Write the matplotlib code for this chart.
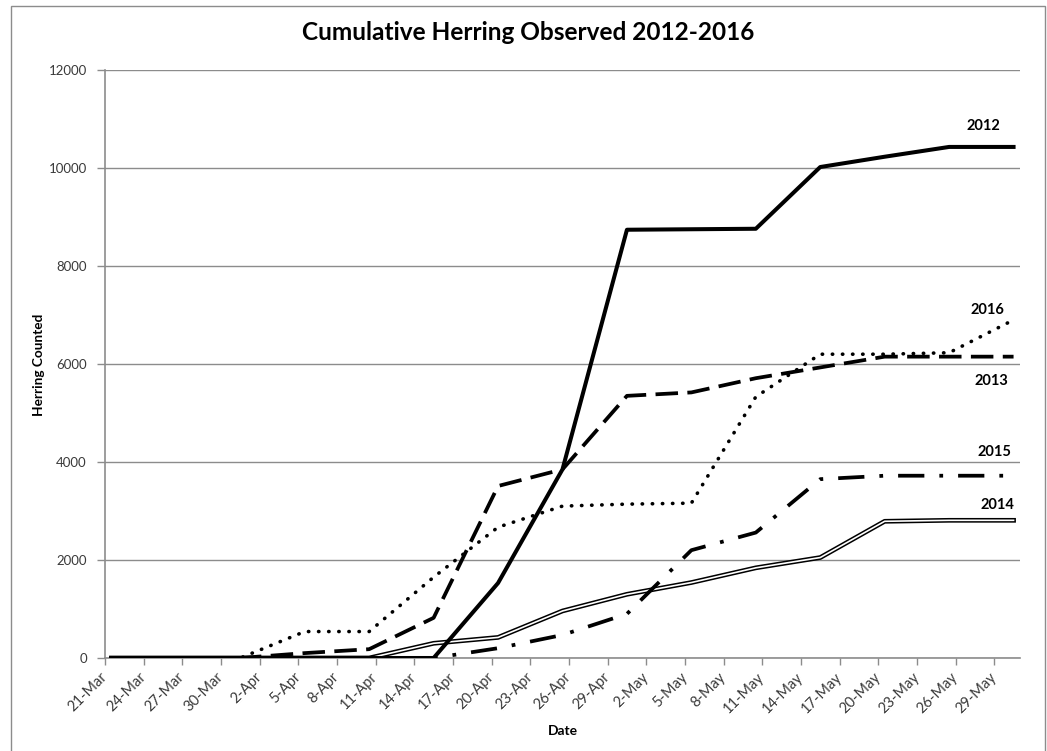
import matplotlib
matplotlib.use("Agg")
import matplotlib.pyplot as plt
import pandas as pd
from matplotlib.patches import Rectangle

# ---- data ----
obs_dates = ["21-Mar", "26-Mar", "31-Mar", "5-Apr", "10-Apr", "15-Apr", "20-Apr", "25-Apr",
             "30-Apr", "5-May", "10-May", "15-May", "20-May", "25-May", "30-May"]
y2012 = [0, 0, 0, 0, 0, 0, 1530, 3850, 8740, 8750, 8760, 10020, 10230, 10430, 10430]
y2013 = [0, 0, 0, 100, 180, 820, 3510, 3850, 5350, 5420, 5710, 5930, 6150, 6150, 6150]
y2014 = [0, 0, 0, 0, 0, 300, 420, 960, 1300, 1540, 1840, 2050, 2790, 2810, 2810]
y2015 = [0, 0, 0, 0, 0, 0, 200, 470, 900, 2200, 2560, 3650, 3720, 3720, 3720]
y2016 = [0, 0, 0, 540, 540, 1650, 2670, 3100, 3140, 3160, 5330, 6200, 6200, 6230, 6900]
tick_labels = ["21-Mar", "24-Mar", "27-Mar", "30-Mar", "2-Apr", "5-Apr", "8-Apr", "11-Apr",
               "14-Apr", "17-Apr", "20-Apr", "23-Apr", "26-Apr", "29-Apr", "2-May", "5-May",
               "8-May", "11-May", "14-May", "17-May", "20-May", "23-May", "26-May", "29-May"]
axis_start, axis_end = "21-Mar", "31-May"

YEAR = "2015"
def to_date(s):
    return pd.to_datetime(f"{s}-{YEAR}", format="%d-%b-%Y")

x = [to_date(d) + pd.Timedelta(hours=12) for d in obs_dates]
ticks = [to_date(d) for d in tick_labels]

fig = plt.figure(figsize=(10.47, 7.51), dpi=100)
ax = fig.add_axes([105/1047, 1-658/751, (1020-105)/1047, (658-70)/751])

grid_c = "#8c8c8c"
ax.set_ylim(0, 12000)
ax.set_yticks(range(0, 12001, 2000))
ax.set_xlim(to_date(axis_start), to_date(axis_end))
ax.set_xticks(ticks)
ax.set_xticklabels(tick_labels, rotation=45, ha="right", va="center", rotation_mode="anchor")
ax.yaxis.grid(True, color=grid_c, lw=1)
ax.set_axisbelow(True)
for s in ["top", "right"]:
    ax.spines[s].set_visible(False)
for s in ["left", "bottom"]:
    ax.spines[s].set_color(grid_c)
    ax.spines[s].set_linewidth(1.2)
ax.tick_params(axis="both", colors=grid_c, length=5, width=1, labelcolor="#3a3a3a")
ax.tick_params(axis="x", pad=7)
ax.tick_params(axis="y", pad=7, length=6)
for lab in ax.get_xticklabels():
    lab.set_fontfamily("Lato")
    lab.set_fontsize(10.5)
for lab in ax.get_yticklabels():
    lab.set_fontfamily("Lato")
    lab.set_fontsize(9.5)

# series
ax.plot(x, y2014, color="black", lw=3.4, zorder=3)
ax.plot(x, y2014, color="white", lw=1.2, zorder=3.1)
ax.plot(x, y2015, color="black", lw=2.7, linestyle=(0, (7, 4, 1, 4)), zorder=4)
ax.plot(x, y2016, color="black", lw=2.6, linestyle=(0, (0.1, 2.7)), dash_capstyle="round", zorder=5)
ax.plot(x, y2013, color="black", lw=2.7, linestyle=(0, (6, 2.5)), zorder=6)
ax.plot(x, y2012, color="black", lw=2.9, zorder=7)

# year labels
def fig_text(px, py, s):
    fig.text(px/1047, 1-py/751, s, fontfamily="Lato", fontweight="bold", fontsize=10.5,
             ha="center", va="center")
fig_text(983, 126, "2012")
fig_text(987, 310, "2016")
fig_text(991, 381, "2013")
fig_text(994, 452, "2015")
fig_text(997, 505, "2014")

fig.text(528/1047, 1-33/751, "Cumulative Herring Observed 2012-2016", fontfamily="Lato",
         fontweight="bold", fontsize=17.6, ha="center", va="center")
fig.text(39/1047, 1-365/751, "Herring Counted", fontfamily="Lato", fontweight="bold",
         fontsize=9.8, rotation=90, ha="center", va="center")
fig.text(563/1047, 1-731/751, "Date", fontfamily="Lato", fontweight="bold",
         fontsize=10, ha="center", va="center")

# figure border
fig.patches.append(Rectangle((11/1047, -0.01), (1045-11)/1047, 1-6/751+0.01,
                             transform=fig.transFigure, fill=False, edgecolor="#8c8c8c", lw=1))

fig.savefig("out.png", dpi=100)
